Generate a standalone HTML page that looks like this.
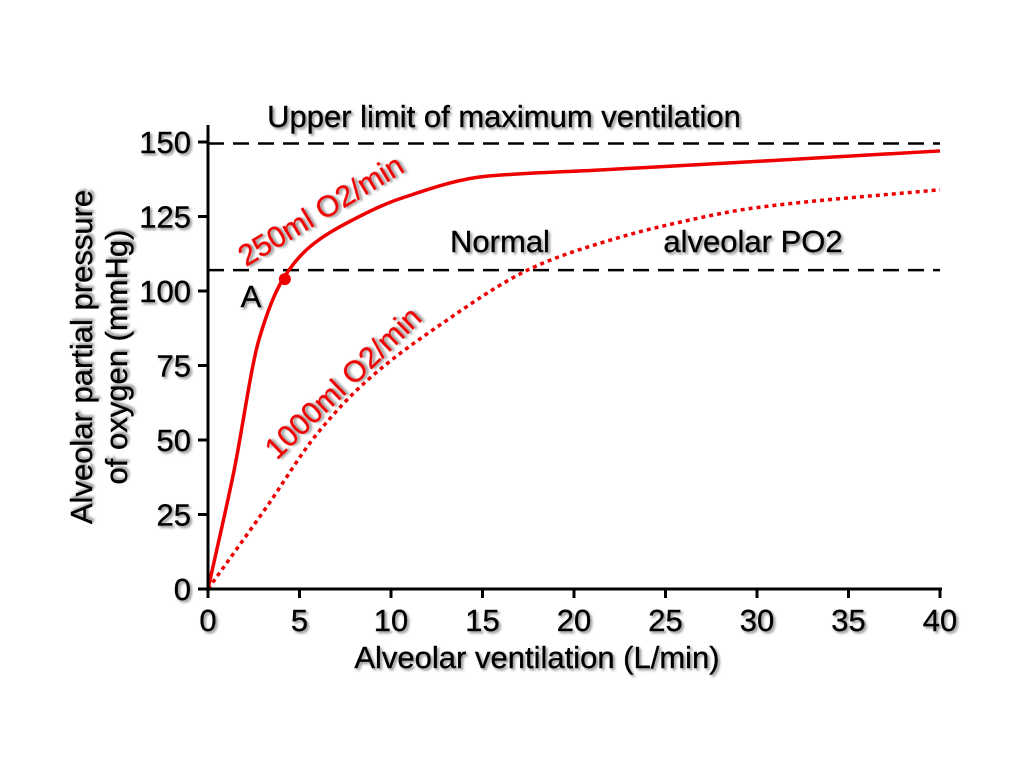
<!DOCTYPE html>
<html><head><meta charset="utf-8"><style>
body{margin:0;background:#fff}
svg text{font-family:"Liberation Sans",sans-serif;}
</style></head><body>
<svg id="c" width="1024" height="768">
<defs><filter id="sh" x="-10%" y="-10%" width="130%" height="140%"><feDropShadow dx="2" dy="2" stdDeviation="1.2" flood-color="#777" flood-opacity="0.8"/></filter></defs>
<g id="g"></g>
</svg>
<script>
const xTicks=[0,5,10,15,20,25,30,35,40];
const yTicks=[0,25,50,75,100,125,150];
const xs250=[0,1.4,2.8,4.1,5.6,7.8,10.5,15.2,21.4,30,40];
const ys250=[0,39,84,104,115,123.5,131,138.5,140.6,143.5,147];
const xs1000=[0,3.2,5.95,8.7,12.3,17.8,21.4,25,30,40];
const ys1000=[0,27.5,52,70,87,108,116,122,128,134];
const refLines=[149.5,107];
const pointA=[4.2,104];
const X=v=>208+v*18.3, Y=v=>589-v*2.98;
const NS='http://www.w3.org/2000/svg', g=document.getElementById('g');
function mk(t,a,p){const e=document.createElementNS(NS,t);for(const k in a)e.setAttribute(k,a[k]);(p||g).appendChild(e);return e;}
function smooth(xs,ys){
  const px=xs.map(X), py=ys.map(Y), n=px.length;
  const d=[],m=[];
  for(let i=0;i<n-1;i++)d.push((py[i+1]-py[i])/(px[i+1]-px[i]));
  m[0]=d[0];m[n-1]=d[n-2];
  for(let i=1;i<n-1;i++){m[i]=(d[i-1]*d[i]<=0)?0:2/(1/d[i-1]+1/d[i]);}
  let s='M'+px[0]+','+py[0];
  for(let i=0;i<n-1;i++){const h=(px[i+1]-px[i])/3;
    s+='C'+(px[i]+h)+','+(py[i]+m[i]*h)+' '+(px[i+1]-h)+','+(py[i+1]-m[i+1]*h)+' '+px[i+1]+','+py[i+1];}
  return s;}
refLines.forEach((v,i)=>{const l=mk('line',{x1:X(0),x2:X(40),y1:Y(v),y2:Y(v),stroke:'#000','stroke-width':2.5,'stroke-dasharray':'16,9'});

});
let c=mk('path',{d:smooth(xs250,ys250),fill:'none',stroke:'#e00','stroke-width':3.5});


c=mk('path',{d:smooth(xs1000,ys1000),fill:'none',stroke:'#e00','stroke-width':3.5,'stroke-dasharray':'4,4'});


c=mk('circle',{cx:X(pointA[0]),cy:Y(pointA[1]),r:6,fill:'#e00'});


let a=mk('line',{x1:208,x2:208,y1:125,y2:590,stroke:'#000','stroke-width':3});


a=mk('line',{x1:206,x2:942,y1:589,y2:589,stroke:'#000','stroke-width':3});


function txt(s,x,y,o,name){const t=mk('text',Object.assign({x:x,y:y,'font-size':31,fill:'#000',stroke:'#000','stroke-width':0.4,filter:'url(#sh)'},o||{}));t.textContent=s;

return t;}
xTicks.forEach(v=>{mk('line',{x1:X(v),x2:X(v),y1:589,y2:598,stroke:'#000','stroke-width':3});txt(v,X(v),631,{'text-anchor':'middle'},'x-tick-label');});
yTicks.forEach(v=>{mk('line',{x1:198,x2:208,y1:Y(v),y2:Y(v),stroke:'#000','stroke-width':3});txt(v,191,Y(v)+11,{'text-anchor':'end'},'y-tick-label');});
txt('Alveolar ventilation (L/min)',537,668,{'text-anchor':'middle'},'x-axis-title');
txt('Alveolar partial pressure',0,0,{'text-anchor':'middle',transform:'translate(92,357) rotate(-90)'},'y-axis-title-line1');
txt('of oxygen (mmHg)',0,0,{'text-anchor':'middle',transform:'translate(127,357) rotate(-90)'},'y-axis-title-line2');
txt('Upper limit of maximum ventilation',504,127,{'text-anchor':'middle'},'upper-limit-label');
txt('Normal',500,252,{'text-anchor':'middle'},'normal-label');
txt('alveolar PO2',753,252,{'text-anchor':'middle'},'alveolar-po2-label');
txt('A',251,307,{'text-anchor':'middle'},'point-a-label');
txt('250ml O2/min',0,0,{'text-anchor':'middle','font-size':30,fill:'#e00',stroke:'#e00',transform:'translate(326,219) rotate(-31)'},'curve-250ml-label');
txt('1000ml O2/min',0,0,{'text-anchor':'middle','font-size':30,fill:'#e00',stroke:'#e00',transform:'translate(350,390) rotate(-44)'},'curve-1000ml-label');
</script>
</body></html>
